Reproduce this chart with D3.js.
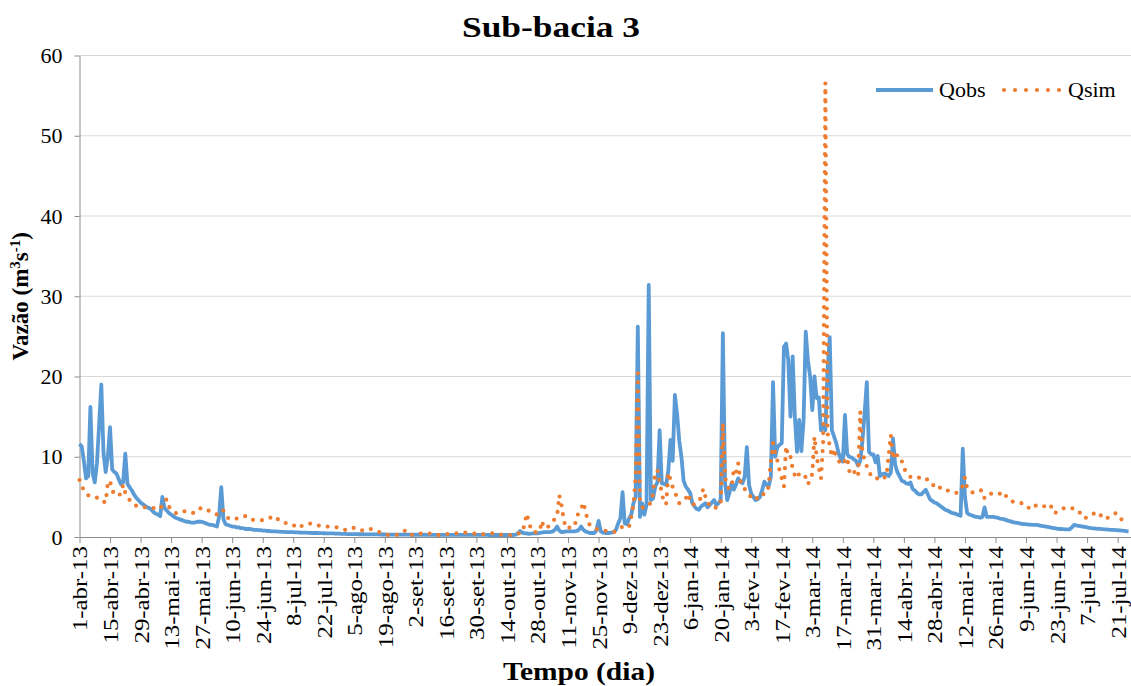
<!DOCTYPE html>
<html>
<head>
<meta charset="utf-8">
<script src="https://cdn.jsdelivr.net/npm/d3@7"></script>
<style>
  body { margin: 0; background: #fff; }
  svg, svg text { font-family: "Liberation Serif", "Times New Roman", Times, "DejaVu Serif", serif; }
  svg { display: block; }
</style>
</head>
<body>
<svg id="chart" width="1131" height="686"></svg>
<script>
// Daily discharge series, starting 1 April 2013
const startDate = "2013-04-01";

// Observed discharge (m3/s), one value per day, 14 days per row
const qobs = [
  11.6, 11.3, 9.5, 7.3, 7.6, 16.2, 8.0, 6.8, 9.2, 14.0, 19.0, 10.5, 8.1, 10.0,
  13.7, 8.4, 8.1, 7.9, 7.2, 6.6, 6.8, 10.4, 6.6, 6.2, 5.8, 5.3, 4.9, 4.6,
  4.3, 4.1, 3.9, 3.7, 3.6, 3.4, 3.1, 2.9, 2.8, 2.6, 5.0, 3.6, 3.3, 3.0,
  2.8, 2.6, 2.4, 2.3, 2.2, 2.1, 2.0, 1.9, 1.9, 1.8, 1.8, 1.8, 1.9, 1.9,
  1.9, 1.8, 1.7, 1.6, 1.5, 1.5, 1.4, 1.3, 2.5, 6.2, 2.2, 1.6, 1.5, 1.4,
  1.3, 1.3, 1.2, 1.2, 1.1, 1.1, 1.0, 1.0, 1.0, 0.95, 0.9, 0.9, 0.85, 0.85,
  0.8, 0.8, 0.75, 0.75, 0.7, 0.7, 0.7, 0.68, 0.66, 0.65, 0.64, 0.62, 0.62, 0.6,
  0.6, 0.58, 0.58, 0.56, 0.55, 0.55, 0.54, 0.52, 0.52, 0.5, 0.5, 0.5, 0.48, 0.48,
  0.47, 0.46, 0.45, 0.45, 0.44, 0.43, 0.42, 0.41, 0.4, 0.39, 0.38, 0.37, 0.36, 0.36,
  0.35, 0.35, 0.34, 0.34, 0.34, 0.33, 0.33, 0.33, 0.32, 0.32, 0.32, 0.32, 0.31, 0.31,
  0.31, 0.3, 0.3, 0.3, 0.3, 0.3, 0.3, 0.29, 0.29, 0.29, 0.29, 0.29, 0.28, 0.28,
  0.28, 0.28, 0.28, 0.28, 0.28, 0.27, 0.27, 0.27, 0.27, 0.27, 0.27, 0.27, 0.27, 0.27,
  0.27, 0.27, 0.27, 0.27, 0.26, 0.26, 0.26, 0.26, 0.26, 0.26, 0.26, 0.26, 0.26, 0.26,
  0.26, 0.26, 0.26, 0.26, 0.26, 0.26, 0.25, 0.25, 0.25, 0.25, 0.25, 0.25, 0.25, 0.25,
  0.25, 0.25, 0.25, 0.25, 0.3, 0.45, 0.75, 0.55, 0.46, 0.46, 0.4, 0.42, 0.46, 0.45,
  0.45, 0.5, 0.55, 0.6, 0.62, 0.6, 0.65, 0.7, 0.9, 1.3, 0.8, 0.6, 0.65, 0.7,
  0.7, 0.7, 0.7, 0.7, 0.75, 0.9, 1.3, 0.9, 0.7, 0.6, 0.5, 0.5, 0.5, 0.8,
  2.0, 0.7, 0.55, 0.5, 0.5, 0.5, 0.55, 0.6, 0.9, 1.7, 2.3, 5.6, 1.7, 1.6,
  2.3, 2.8, 4.2, 5.0, 26.2, 2.5, 4.2, 2.8, 4.0, 31.4, 4.6, 4.8, 6.3, 6.8,
  13.3, 6.7, 6.6, 6.5, 8.3, 12.1, 9.5, 17.7, 15.4, 12.0, 10.0, 7.0, 6.3, 5.9,
  5.5, 4.2, 3.8, 3.5, 3.4, 3.8, 4.0, 4.2, 3.7, 4.0, 4.3, 4.6, 4.0, 4.2,
  4.6, 25.4, 6.7, 4.6, 5.5, 6.7, 5.9, 6.5, 7.3, 6.9, 6.7, 7.5, 11.2, 6.5,
  5.4, 5.0, 4.6, 4.7, 5.0, 5.8, 6.9, 6.5, 6.3, 7.5, 19.3, 10.0, 11.2, 11.5,
  11.7, 23.7, 24.1, 22.0, 15.0, 22.5, 15.0, 10.6, 14.6, 10.7, 14.5, 25.6, 22.0, 20.0,
  15.8, 20.0, 17.3, 17.4, 13.3, 14.0, 13.3, 20.8, 24.9, 13.3, 12.5, 11.7, 10.5, 9.8,
  9.4, 15.2, 10.3, 10.0, 9.9, 9.7, 9.5, 8.9, 9.5, 12.0, 15.5, 19.3, 10.6, 10.3,
  10.3, 9.3, 10.1, 7.6, 7.8, 7.9, 7.8, 7.6, 8.0, 12.3, 9.0, 8.1, 7.6, 7.0,
  6.9, 6.7, 6.6, 6.8, 6.0, 5.8, 5.5, 5.3, 5.3, 5.6, 5.9, 5.3, 4.7, 4.5,
  4.3, 4.2, 4.0, 3.8, 3.6, 3.4, 3.3, 3.15, 3.0, 2.95, 2.85, 2.75, 2.65, 11.0,
  5.0, 3.0, 2.8, 2.7, 2.6, 2.5, 2.5, 2.4, 2.5, 3.7, 2.5, 2.5, 2.5, 2.5,
  2.45, 2.4, 2.3, 2.25, 2.2, 2.1, 2.0, 1.95, 1.85, 1.8, 1.75, 1.7, 1.65, 1.6,
  1.6, 1.55, 1.55, 1.5, 1.5, 1.5, 1.45, 1.4, 1.35, 1.3, 1.25, 1.2, 1.15, 1.1,
  1.05, 1.0, 1.0, 0.98, 0.96, 0.95, 0.95, 1.2, 1.5, 1.45, 1.4, 1.35, 1.3, 1.25,
  1.2, 1.15, 1.1, 1.08, 1.05, 1.02, 1.0, 0.98, 0.96, 0.95, 0.92, 0.9, 0.88, 0.86,
  0.84, 0.82, 0.8, 0.76, 0.72, 0.68
];

// Simulated discharge (m3/s), same days
const qsim = [
  7.1, 6.4, 5.8, 5.4, 5.2, 5.1, 5.0, 5.0, 4.9, 4.9, 4.6, 4.4, 4.3, 6.8,
  7.0, 5.8, 5.4, 5.1, 5.2, 5.4, 6.5, 5.5, 5.0, 4.6, 4.2, 4.0, 3.9, 3.9,
  3.8, 3.8, 3.7, 3.7, 3.7, 3.6, 3.6, 3.6, 3.5, 3.5, 4.0, 4.5, 4.7, 3.8,
  3.4, 3.2, 3.0, 2.9, 3.0, 3.1, 3.2, 3.2, 3.1, 3.1, 3.0, 3.0, 3.2, 3.5,
  3.65, 3.5, 3.4, 3.3, 3.2, 3.0, 2.9, 2.8, 3.0, 3.4, 3.3, 2.8, 2.4, 2.2,
  2.2, 2.2, 2.3, 2.3, 2.4, 2.5, 2.6, 2.6, 2.4, 2.2, 2.1, 2.1, 2.1, 2.1,
  2.1, 2.1, 2.2, 2.3, 2.5, 2.6, 2.5, 2.2, 2.0, 1.8, 1.8, 1.7, 1.6, 1.6,
  1.5, 1.3, 1.1, 1.2, 1.4, 1.5, 1.5, 1.6, 1.7, 1.65, 1.6, 1.5, 1.4, 1.3,
  1.3, 1.3, 1.3, 1.25, 1.2, 1.2, 1.2, 1.1, 1.0, 0.9, 0.9, 1.0, 1.1, 1.2,
  1.1, 1.0, 0.9, 0.8, 0.85, 0.95, 1.0, 1.05, 0.95, 0.85, 0.75, 0.66, 0.55, 0.45,
  0.35, 0.28, 0.25, 0.25, 0.25, 0.25, 0.3, 0.45, 0.6, 0.75, 0.85, 0.6, 0.3, 0.25,
  0.3, 0.35, 0.4, 0.46, 0.46, 0.46, 0.46, 0.42, 0.38, 0.33, 0.28, 0.25, 0.28, 0.3,
  0.35, 0.38, 0.4, 0.42, 0.44, 0.46, 0.48, 0.5, 0.52, 0.54, 0.55, 0.5, 0.46, 0.42,
  0.4, 0.38, 0.36, 0.35, 0.35, 0.38, 0.42, 0.45, 0.46, 0.42, 0.35, 0.3, 0.27, 0.25,
  0.25, 0.25, 0.25, 0.25, 0.3, 0.4, 0.5, 0.55, 1.5, 2.9, 1.9, 1.0, 0.6, 0.6,
  0.6, 0.7, 2.0, 1.1, 1.2, 1.3, 1.6, 1.9, 2.3, 2.6, 5.2, 4.0, 2.2, 1.1,
  1.1, 1.2, 1.2, 1.3, 2.6, 3.0, 3.5, 4.3, 3.3, 2.0, 1.5, 1.3, 1.1, 1.0,
  0.9, 0.85, 0.8, 0.8, 0.7, 0.65, 0.6, 0.6, 0.8, 1.0, 1.1, 1.3, 1.2, 1.1,
  1.3, 2.5, 4.0, 7.5, 20.4, 4.5, 3.7, 3.6, 3.8, 4.1, 4.2, 5.4, 8.1, 8.3,
  6.9, 5.5, 4.2, 4.1, 8.0, 7.1, 6.2, 5.5, 5.0, 4.2, 4.4, 4.6, 4.8, 5.4,
  4.6, 4.0, 4.1, 4.2, 4.4, 5.0, 6.0, 5.0, 4.2, 4.0, 3.6, 3.6, 3.7, 3.8,
  4.1, 14.2, 7.5, 6.3, 6.0, 6.2, 8.4, 8.0, 9.2, 7.0, 6.3, 6.0, 5.5, 5.2,
  5.0, 4.7, 4.6, 5.0, 5.4, 5.4, 5.3, 5.5, 6.3, 9.5, 11.7, 10.5, 9.5, 8.3,
  7.3, 6.3, 11.3, 9.9, 10.0, 8.5, 7.7, 8.2, 7.7, 7.3, 7.4, 7.5, 6.6, 7.0,
  7.9, 12.5, 10.0, 8.6, 7.3, 12.0, 56.6, 13.0, 11.3, 10.0, 11.0, 9.9, 9.5, 9.2,
  9.0, 9.5, 9.9, 8.2, 8.6, 8.2, 7.8, 7.5, 15.6, 10.5, 9.6, 8.8, 8.2, 7.6,
  7.3, 7.3, 7.3, 7.6, 7.4, 7.4, 7.5, 10.1, 12.7, 9.7, 10.7, 10.1, 10.1, 9.5,
  8.7, 8.0, 7.8, 7.5, 7.4, 7.3, 7.3, 7.4, 7.5, 7.5, 7.3, 7.1, 6.9, 6.8,
  6.1, 6.0, 6.1, 6.2, 6.2, 6.0, 5.8, 5.7, 5.6, 5.5, 5.5, 5.6, 6.0, 6.35,
  7.4, 6.1, 5.8, 5.6, 5.5, 5.6, 5.7, 5.8, 5.8, 4.8, 5.1, 5.3, 5.4, 5.4,
  5.3, 5.3, 5.4, 5.5, 5.6, 5.0, 4.7, 4.5, 4.4, 4.3, 4.3, 4.3, 4.2, 4.2,
  4.0, 3.7, 3.45, 3.6, 3.9, 3.9, 3.8, 3.7, 3.8, 3.9, 4.0, 4.1, 3.5, 2.95,
  3.1, 3.3, 3.45, 3.55, 3.65, 3.7, 3.65, 3.6, 3.5, 3.4, 3.3, 2.9, 2.4, 2.4,
  2.4, 2.5, 2.7, 2.9, 2.95, 3.1, 2.8, 2.4, 2.2, 2.3, 2.5, 2.6, 2.8, 2.95,
  2.9, 2.5, 2.1, 2.0, 1.95, 1.9
];

// Axis labels
const xTickLabels = [
  "1-abr-13", "15-abr-13", "29-abr-13", "13-mai-13", "27-mai-13", "10-jun-13",
  "24-jun-13", "8-jul-13", "22-jul-13", "5-ago-13", "19-ago-13", "2-set-13",
  "16-set-13", "30-set-13", "14-out-13", "28-out-13", "11-nov-13", "25-nov-13",
  "9-dez-13", "23-dez-13", "6-jan-14", "20-jan-14", "3-fev-14", "17-fev-14",
  "3-mar-14", "17-mar-14", "31-mar-14", "14-abr-14", "28-abr-14", "12-mai-14",
  "26-mai-14", "9-jun-14", "23-jun-14", "7-jul-14", "21-jul-14"
];
const yTicks = [0, 10, 20, 30, 40, 50, 60];
const seriesNames = ["Qobs", "Qsim"];
const seriesColors = ["#5B9BD5", "#ED7D31"];

const SERIF = "'Liberation Serif', 'Times New Roman', Times, 'DejaVu Serif', serif";

// Portuguese month abbreviations for parsing the tick labels
const ptLocale = d3.timeFormatLocale({
  dateTime: "%d/%m/%Y %H:%M:%S", date: "%d/%m/%Y", time: "%H:%M:%S",
  periods: ["AM", "PM"],
  days: ["domingo", "segunda", "terça", "quarta", "quinta", "sexta", "sábado"],
  shortDays: ["dom", "seg", "ter", "qua", "qui", "sex", "sáb"],
  months: ["janeiro", "fevereiro", "março", "abril", "maio", "junho", "julho",
           "agosto", "setembro", "outubro", "novembro", "dezembro"],
  shortMonths: ["jan", "fev", "mar", "abr", "mai", "jun", "jul", "ago", "set", "out", "nov", "dez"]
});
const parseTick = ptLocale.parse("%d-%b-%y");

const start = d3.timeParse("%Y-%m-%d")(startDate);
const days = qobs.map((_, i) => d3.timeDay.offset(start, i));
const xTickDates = xTickLabels.map(parseTick);

const svg = d3.select("#chart");
const plot = { left: 79.5, right: 1130.7, top: 55.5, bottom: 537 };

const x = d3.scaleTime()
  .domain([start, d3.timeDay.offset(start, qobs.length)])
  .range([plot.left, plot.right]);
const y = d3.scaleLinear()
  .domain([0, 60])
  .range([plot.bottom, plot.top]);

// Horizontal gridlines
svg.append("g")
  .selectAll("line")
  .data(yTicks.filter(v => v > 0))
  .join("line")
  .attr("x1", plot.left).attr("x2", 1131)
  .attr("y1", d => y(d)).attr("y2", d => y(d))
  .attr("stroke", "#d9d9d9").attr("stroke-width", 1);

// Y axis
const yAxis = svg.append("g")
  .attr("transform", `translate(${plot.left},0)`)
  .call(d3.axisLeft(y).tickValues(yTicks).tickSize(5).tickPadding(12).tickSizeOuter(0));
yAxis.attr("font-family", SERIF).attr("font-size", 22);
yAxis.select(".domain").attr("stroke", "#8c8c8c");
yAxis.selectAll(".tick line").attr("stroke", "#8c8c8c");
yAxis.selectAll("text").attr("fill", "#000");

// X axis: date labels turned vertical, slightly elongated along the baseline
const xAxis = svg.append("g")
  .attr("transform", `translate(0,${plot.bottom})`)
  .call(d3.axisBottom(x).tickValues(xTickDates)
    .tickFormat((d, i) => xTickLabels[i]).tickSize(6).tickSizeOuter(0));
xAxis.attr("font-family", SERIF).attr("font-size", 22);
xAxis.select(".domain").attr("stroke", "#8c8c8c");
xAxis.selectAll(".tick line").attr("stroke", "#8c8c8c");
xAxis.selectAll("text")
  .attr("fill", "#000")
  .attr("transform", "rotate(-90) scale(1.13,1)")
  .attr("text-anchor", "end")
  .attr("x", -8).attr("y", 0).attr("dy", "0.34em");

// Series lines
const line = d3.line()
  .x((d, i) => x(days[i]))
  .y(d => y(d));

svg.append("path")
  .datum(qobs)
  .attr("fill", "none")
  .attr("stroke", seriesColors[0])
  .attr("stroke-width", 3.8)
  .attr("stroke-linejoin", "round")
  .attr("d", line);

svg.append("path")
  .datum(qsim)
  .attr("fill", "none")
  .attr("stroke", seriesColors[1])
  .attr("stroke-width", 4.2)
  .attr("stroke-linecap", "round")
  .attr("stroke-dasharray", "0 9")
  .attr("d", line);

// Title
svg.append("text")
  .attr("x", 551).attr("y", 37)
  .attr("text-anchor", "middle")
  .attr("font-family", SERIF)
  .attr("font-size", 30).attr("font-weight", "bold")
  .attr("textLength", 178).attr("lengthAdjust", "spacingAndGlyphs")
  .text("Sub-bacia 3");

// Axis titles
svg.append("text")
  .attr("x", 579).attr("y", 680)
  .attr("text-anchor", "middle")
  .attr("font-family", SERIF)
  .attr("font-size", 26).attr("font-weight", "bold")
  .attr("textLength", 152).attr("lengthAdjust", "spacingAndGlyphs")
  .text("Tempo (dia)");

const yTitle = svg.append("text")
  .attr("transform", `translate(28,${(plot.top + plot.bottom) / 2}) rotate(-90)`)
  .attr("text-anchor", "middle")
  .attr("font-family", SERIF)
  .attr("font-size", 23).attr("font-weight", "bold");
yTitle.append("tspan").text("Vazão (m");
yTitle.append("tspan").attr("font-size", 15).attr("dy", -8).text("3");
yTitle.append("tspan").attr("dy", 8).text("s");
yTitle.append("tspan").attr("font-size", 15).attr("dy", -8).text("-1");
yTitle.append("tspan").attr("dy", 8).text(")");

// Legend
const legend = svg.append("g").attr("transform", "translate(876,90)")
  .attr("font-family", SERIF).attr("font-size", 22);
legend.append("line")
  .attr("x1", 0).attr("x2", 57).attr("y1", 0).attr("y2", 0)
  .attr("stroke", seriesColors[0]).attr("stroke-width", 3.8);
legend.append("text")
  .attr("x", 63).attr("y", 0).attr("dy", "0.34em")
  .text(seriesNames[0]);
legend.append("line")
  .attr("x1", 128).attr("x2", 184).attr("y1", 0).attr("y2", 0)
  .attr("stroke", seriesColors[1]).attr("stroke-width", 4.2)
  .attr("stroke-linecap", "round").attr("stroke-dasharray", "0 11");
legend.append("text")
  .attr("x", 192).attr("y", 0).attr("dy", "0.34em")
  .text(seriesNames[1]);
</script>
</body>
</html>
